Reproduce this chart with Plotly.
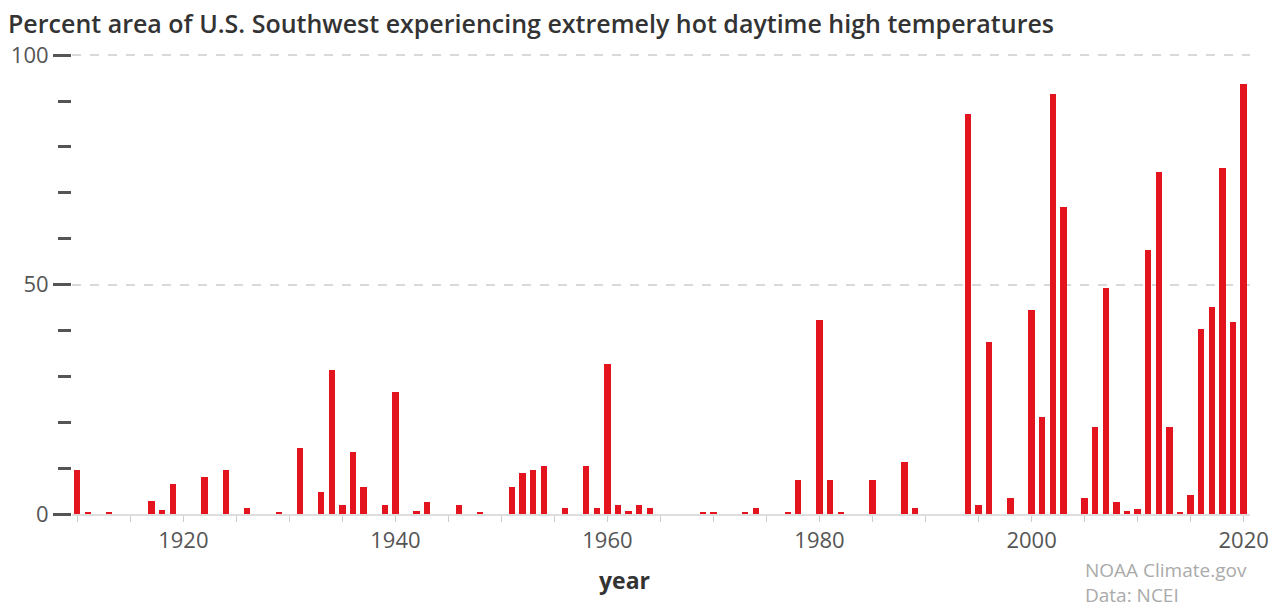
import plotly.graph_objects as go

years = list(range(1910, 2021))

# percent area values (years without a visible bar = 0)
values_by_year = {
    1910: 9.6, 1911: 0.5, 1913: 0.5, 1917: 2.8, 1918: 0.8, 1919: 6.5,
    1922: 8.1, 1924: 9.6, 1926: 1.4, 1929: 0.5, 1931: 14.4, 1933: 4.9,
    1934: 31.4, 1935: 2.0, 1936: 13.6, 1937: 5.9, 1939: 2.0, 1940: 26.6,
    1942: 0.7, 1943: 2.7, 1946: 2.0, 1948: 0.5, 1951: 5.8, 1952: 8.9,
    1953: 9.6, 1954: 10.5, 1956: 1.3, 1958: 10.5, 1959: 1.3, 1960: 32.8,
    1961: 2.0, 1962: 0.6, 1963: 2.0, 1964: 1.3, 1969: 0.5, 1970: 0.5,
    1973: 0.5, 1974: 1.3, 1977: 0.5, 1978: 7.4, 1980: 42.3, 1981: 7.4,
    1982: 0.5, 1985: 7.4, 1988: 11.3, 1989: 1.3, 1994: 87.1, 1995: 2.0,
    1996: 37.5, 1998: 3.4, 2000: 44.4, 2001: 21.2, 2002: 91.6, 2003: 67.0,
    2005: 3.4, 2006: 19.0, 2007: 49.2, 2008: 2.7, 2009: 0.7, 2010: 1.0,
    2011: 57.5, 2012: 74.6, 2013: 19.0, 2014: 0.5, 2015: 4.1, 2016: 40.4,
    2017: 45.2, 2018: 75.3, 2019: 41.9, 2020: 93.8,
}
percent_area = [values_by_year.get(y, 0) for y in years]

x_tick_vals = [1920, 1940, 1960, 1980, 2000, 2020]
x_tick_text = ["1920", "1940", "1960", "1980", "2000", "2020"]
y_tick_vals = [0, 50, 100]
y_tick_text = ["0", "50", "100"]

title_text = "Percent area of U.S. Southwest experiencing extremely hot daytime high temperatures"
x_label = "year"
credit_lines = ["NOAA Climate.gov", "Data: NCEI"]

FONT = "Open Sans"

fig = go.Figure()
fig.add_trace(go.Bar(
    x=years, y=percent_area, width=0.6,
    marker=dict(color="#e3141d", line=dict(width=0)),
    hoverinfo="x+y",
))

fig.update_layout(
    width=1282, height=610,
    margin=dict(l=72, r=32, t=54, b=96),
    paper_bgcolor="white", plot_bgcolor="white",
    showlegend=False,
    bargap=0,
    font=dict(family=FONT, color="#555555"),
    title=dict(
        text=title_text, x=8 / 1282, xref="container", xanchor="left",
        y=1 - 24 / 610, yref="container", yanchor="middle",
        font=dict(family=FONT, size=25, color="#333333", weight=600),
    ),
)

fig.update_xaxes(
    range=[1909.5, 2020.6],
    tickvals=x_tick_vals, ticktext=x_tick_text,
    ticks="outside", ticklen=6, tickwidth=1, tickcolor="#cccccc",
    tickfont=dict(family=FONT, size=22, color="#555555"),
    showgrid=False, zeroline=False,
    showline=True, linecolor="#dddddd", linewidth=1.5,
    minor=dict(dtick=5, tick0=1910, ticks="outside", ticklen=6,
               tickwidth=1, tickcolor="#cccccc", showgrid=False),
)

fig.update_yaxes(
    range=[0, 100.25],
    tickvals=y_tick_vals, ticktext=y_tick_text,
    ticks="outside", ticklen=18, tickwidth=2.5, tickcolor="#555555",
    tickfont=dict(family=FONT, size=22, color="#555555"),
    showgrid=True, gridcolor="#d9d9d9", gridwidth=1.5, griddash="dash",
    zeroline=False, showline=False,
    minor=dict(dtick=10, tick0=0, ticks="outside", ticklen=13,
               tickwidth=2.5, tickcolor="#555555", showgrid=False),
)

fig.add_annotation(
    text=x_label, xref="paper", yref="paper", x=0.469, y=-0.1438,
    xanchor="center", yanchor="middle", showarrow=False,
    font=dict(family=FONT, size=23, color="#333333", weight=700),
)
fig.add_annotation(
    text="<br>".join(credit_lines), xref="paper", yref="paper",
    x=0.858, y=-0.148, xanchor="left", yanchor="middle", align="left",
    showarrow=False,
    font=dict(family=FONT, size=19, color="#aaaaaa"),
)

fig.write_html("out.html", config={"displayModeBar": False},
               post_script="document.body.style.margin='0';")
